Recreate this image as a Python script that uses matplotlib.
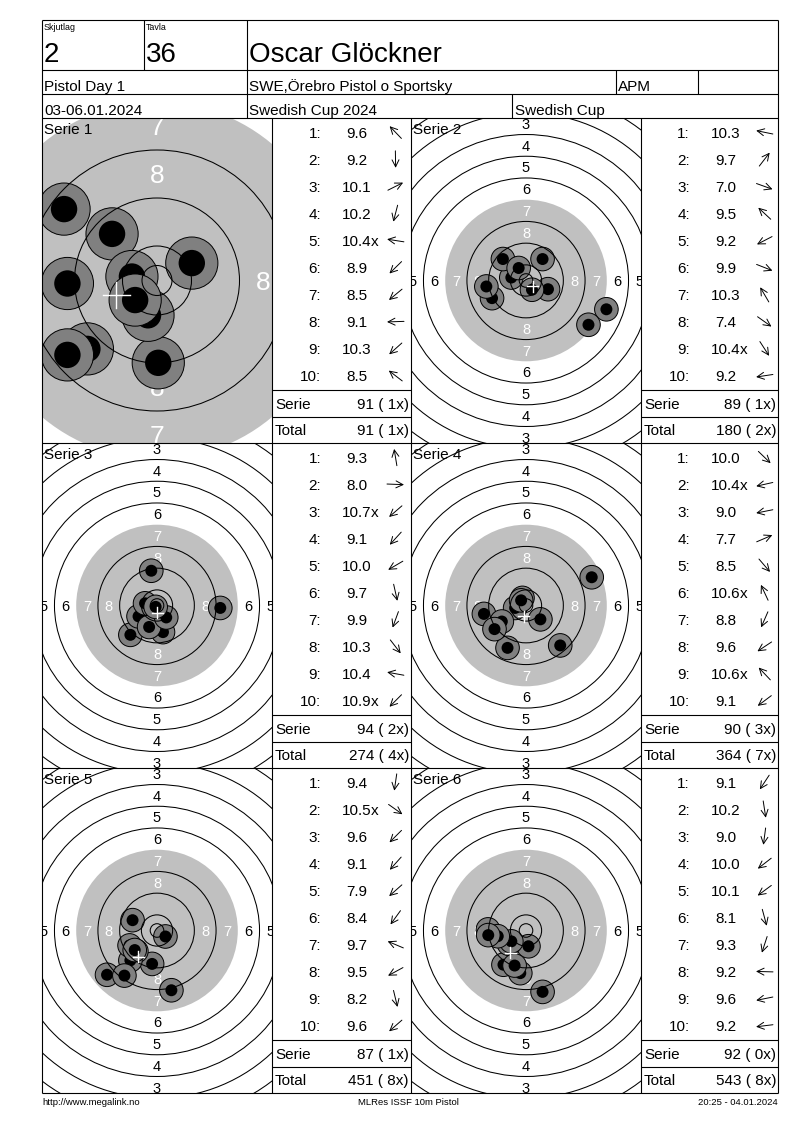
import numpy as np
import matplotlib
matplotlib.use("Agg")
import matplotlib.pyplot as plt
from matplotlib.patches import Circle

plt.rcParams['font.family'] = ['Liberation Sans', 'DejaVu Sans']

# header texts
squad = "2"
lane = "36"
shooter = "Oscar Glöckner"
event_name = "Pistol Day 1"
club = "SWE,Örebro Pistol o Sportsky"
shooter_class = "APM"
dates = "03-06.01.2024"
competition = "Swedish Cup 2024"
cup = "Swedish Cup"
footer_left = "http://www.megalink.no"
footer_mid = "MLRes ISSF 10m Pistol"
footer_right = "20:25 - 04.01.2024"

serie_names = ["Serie 1", "Serie 2", "Serie 3", "Serie 4", "Serie 5", "Serie 6"]

# shot scores as printed
scores1 = ["9.6", "9.2", "10.1", "10.2", "10.4x", "8.9", "8.5", "9.1", "10.3", "8.5"]
scores2 = ["10.3", "9.7", "7.0", "9.5", "9.2", "9.9", "10.3", "7.4", "10.4x", "9.2"]
scores3 = ["9.3", "8.0", "10.7x", "9.1", "10.0", "9.7", "9.9", "10.3", "10.4", "10.9x"]
scores4 = ["10.0", "10.4x", "9.0", "7.7", "8.5", "10.6x", "8.8", "9.6", "10.6x", "9.1"]
scores5 = ["9.4", "10.5x", "9.6", "9.1", "7.9", "8.4", "9.7", "9.5", "8.2", "9.6"]
scores6 = ["9.1", "10.2", "9.0", "10.0", "10.1", "8.1", "9.3", "9.2", "9.6", "9.2"]

# shot positions in mm from target centre (x right, y up)
shots1_x = [-7.49, 0.21, 5.8, -1.5, -4.18, -11.6, -14.93, -14.93, -3.64, -15.49]
shots1_y = [7.77, -13.72, 2.9, -5.8, 0.66, -11.4, -12.4, -0.5, -3.26, 11.9]
shots2_x = [-5.4, 6.1, 29.6, -8.5, -12.5, 8.1, -2.7, 23.0, 2.2, -14.6]
shots2_y = [1.1, 7.9, -10.6, 7.9, -6.5, -3.2, 4.6, -16.3, -3.4, -2.2]
shots3_x = [-2.1, 23.3, -1.5, -9.8, -6.8, 2.2, -2.9, 3.4, -4.4, -0.5]
shots3_y = [12.8, -0.9, -1.3, -10.8, -4.0, -9.8, -7.9, -4.4, 0.8, -0.5]
shots4_x = [5.3, -4.0, -15.5, 24.2, 12.6, -1.3, -6.8, -8.9, -1.8, -11.6]
shots4_y = [-5.1, -0.9, -3.1, 10.4, -14.7, 2.8, -15.6, -5.9, 1.9, -8.7]
shots5_x = [-1.8, 3.1, -7.6, -9.8, -18.4, -12.0, -9.0, -10.1, 5.3, -8.2]
shots5_y = [-12.3, -2.2, -7.6, -11.0, -16.3, -16.6, 3.8, -5.5, -22.0, -7.2]
shots6_x = [-8.3, 0.9, -2.1, -6.3, -5.4, 6.1, -4.2, -14.0, -10.4, -13.9]
shots6_y = [-12.6, -5.8, -15.7, -4.9, -4.0, -22.6, -12.9, 0.4, -2.1, -1.7]

serie_sums = [91, 89, 94, 90, 87, 92]
serie_inner = [1, 1, 2, 3, 1, 0]
total_sums = [91, 180, 274, 364, 451, 543]
total_inner = [1, 2, 4, 7, 8, 8]

all_scores = [scores1, scores2, scores3, scores4, scores5, scores6]
all_x = [shots1_x, shots2_x, shots3_x, shots4_x, shots5_x, shots6_x]
all_y = [shots1_y, shots2_y, shots3_y, shots4_y, shots5_y, shots6_y]

# view settings: pixels per mm and ring number size for each target
px_per_mm = [6.0, 2.716, 2.716, 2.716, 2.716, 2.716]
label_pt = [19, 10.5, 10.5, 10.5, 10.5, 10.5]

W, H = 800, 1130
LEFT, RIGHT, TOP, BOTTOM = 42, 778, 20, 1093
PANEL_TOP = 118
PANEL_H = 325
COLS = [42, 272, 411, 641, 778]

fig = plt.figure(figsize=(W / 100, H / 100), dpi=100)
fig.patch.set_facecolor('white')


def fig_rect(x0, y0, w, h):
    return [x0 / W, 1 - (y0 + h) / H, w / W, h / H]


def ring_radius(k):
    return 5.75 + 8 * (10 - k)


def draw_target(x0, y0, w, h, xs, ys, scale, fs):
    ax = fig.add_axes(fig_rect(x0, y0, w, h))
    hw, hh = w / 2 / scale, h / 2 / scale
    ax.set_xlim(-hw, hw)
    ax.set_ylim(-hh, hh)
    ax.axis('off')
    ax.add_patch(Circle((0, 0), ring_radius(7), fc='#c0c0c0', ec='none', zorder=1))
    cap = 0.716 * fs * 100 / 72 / scale
    for k in range(1, 9):
        r = ring_radius(k) - 4
        col = 'white' if k >= 7 else 'black'
        for px, py in [(0, r), (0, -r), (r, 0), (-r, 0)]:
            ax.text(px, py - cap / 2, str(k), ha='center', va='baseline', color=col,
                    fontsize=fs, zorder=2, clip_on=True)
    for x, y in zip(xs, ys):
        ax.add_patch(Circle((x, y), 4.35, fc='#808080', ec='black', lw=0.7, zorder=3))
        ax.add_patch(Circle((x, y), 2.2, fc='black', ec='none', zorder=3))
    for k in [1, 2, 3, 4, 5, 6, 8, 9, 10]:
        ax.add_patch(Circle((0, 0), ring_radius(k), fill=False, ec='black', lw=0.75, zorder=4))
    ax.add_patch(Circle((0, 0), 2.5, fill=False, ec='black', lw=0.75, zorder=4))
    mx, my = np.mean(xs), np.mean(ys)
    c = 5.5 / scale if scale < 4 else 2.2
    ax.plot([mx - c, mx + c], [my, my], color='white', lw=1, zorder=5)
    ax.plot([mx, mx], [my - c, my + c], color='white', lw=1, zorder=5)


# targets
for i in range(6):
    row, side = divmod(i, 2)
    top = PANEL_TOP + row * PANEL_H
    x0 = COLS[0] if side == 0 else COLS[2]
    x1 = COLS[1] if side == 0 else COLS[3]
    draw_target(x0, top, x1 - x0, PANEL_H, all_x[i], all_y[i], px_per_mm[i], label_pt[i])

# overlay for lines and text, in pixel coordinates
ov = fig.add_axes([0, 0, 1, 1])
ov.set_xlim(0, W)
ov.set_ylim(H, 0)
ov.axis('off')
ov.patch.set_alpha(0)

LW = 0.8


def hline(y, xa, xb):
    ov.plot([xa, xb], [y, y], color='black', lw=LW, solid_capstyle='butt')


def vline(x, ya, yb):
    ov.plot([x, x], [ya, yb], color='black', lw=LW, solid_capstyle='butt')


# frame and header grid
hline(TOP, LEFT, RIGHT)
hline(BOTTOM, LEFT, RIGHT)
vline(LEFT, TOP, BOTTOM)
vline(RIGHT, TOP, BOTTOM)
for y in [70, 94, 118, 443, 768]:
    hline(y, LEFT, RIGHT)
vline(144, TOP, 70)
vline(246.5, TOP, 118)
vline(616, 70, 94)
vline(698, 70, 94)
vline(512, 94, 118)
for x in COLS[1:4]:
    vline(x, PANEL_TOP, BOTTOM)

ov.text(44, 30, "Skjutlag", fontsize=6.4, va='baseline')
ov.text(146, 30, "Tavla", fontsize=6.4, va='baseline')
ov.text(44, 62, squad, fontsize=20, va='baseline')
ov.text(146, 62, lane, fontsize=20, va='baseline')
ov.text(249, 62, shooter, fontsize=20, va='baseline')
ov.text(44, 91, event_name, fontsize=11, va='baseline')
ov.text(249, 91, club, fontsize=11, va='baseline')
ov.text(618, 91, shooter_class, fontsize=11, va='baseline')
ov.text(44, 115, dates, fontsize=11, va='baseline')
ov.text(249, 115, competition, fontsize=11, va='baseline')
ov.text(515, 115, cup, fontsize=11, va='baseline')

# score columns
for i in range(6):
    row, side = divmod(i, 2)
    top = PANEL_TOP + row * PANEL_H
    tx = COLS[0] if side == 0 else COLS[2]
    c0 = COLS[1] if side == 0 else COLS[3]
    c1 = COLS[2] if side == 0 else COLS[4]
    ov.text(tx + 2, top + 16, serie_names[i], fontsize=11, va='baseline')
    for j, s in enumerate(all_scores[i]):
        yc = top + 14.3 + 27.05 * j
        yb = yc + 5.5
        ov.text(c0 + 49, yb, f"{j + 1}:", ha='right', va='baseline', fontsize=11)
        num = s.rstrip('x')
        ov.text(c0 + 84.5, yb, num, ha='center', va='baseline', fontsize=11)
        if s.endswith('x'):
            ov.text(c0 + 99, yb, 'x', ha='left', va='baseline', fontsize=11)
        ang = np.arctan2(all_y[i][j], all_x[i][j])
        dx, dy = 8.5 * np.cos(ang), -8.5 * np.sin(ang)
        ax_c = c0 + 123.5
        ov.annotate('', xy=(ax_c + dx, yc + dy), xytext=(ax_c - dx, yc - dy),
                    arrowprops=dict(arrowstyle='->,head_length=0.5,head_width=0.25',
                                    lw=0.7, color='black', shrinkA=0, shrinkB=0))
    hline(top + 272, c0, c1)
    hline(top + 299, c0, c1)
    ov.text(c0 + 3, top + 291, "Serie", fontsize=11, va='baseline')
    ov.text(c1 - 2, top + 291, f"{serie_sums[i]} ({serie_inner[i]:2d}x)", ha='right',
            fontsize=11, va='baseline')
    ov.text(c0 + 3, top + 317.3, "Total", fontsize=11, va='baseline')
    ov.text(c1 - 2, top + 317.3, f"{total_sums[i]} ({total_inner[i]:2d}x)", ha='right',
            fontsize=11, va='baseline')

# footer
ov.text(LEFT, 1105, footer_left, fontsize=6.8, va='baseline')
ov.text(408, 1105, footer_mid, fontsize=6.8, va='baseline', ha='center')
ov.text(RIGHT, 1105, footer_right, fontsize=6.8, va='baseline', ha='right')

fig.savefig("out.png", dpi=100, facecolor='white')
